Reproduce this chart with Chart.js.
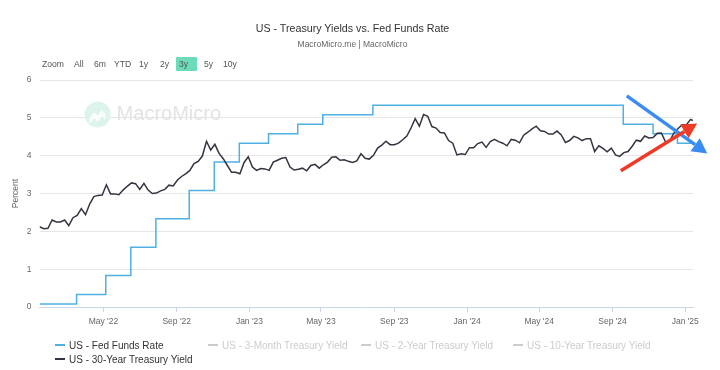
<!DOCTYPE html>
<html>
<head>
<meta charset="utf-8">
<script src="https://cdn.jsdelivr.net/npm/chart.js@4"></script>
<style>
  html,body{margin:0;padding:0;background:#fff;}
  #wrap{position:relative;width:720px;height:370px;overflow:hidden;font-family:"Liberation Sans",Arial,sans-serif;}
  #c{position:absolute;left:0;top:0;}
  .t{position:absolute;white-space:nowrap;}
  #title{left:0;width:705px;text-align:center;top:22px;font-size:10.7px;color:#333;}
  #sub{left:0;width:705px;text-align:center;top:39px;font-size:8.5px;color:#666;}
  .btn{position:absolute;top:59px;font-size:8.6px;color:#555;line-height:10px;}
  #sel{position:absolute;left:176px;top:57px;width:21px;height:14px;background:#6ddbb9;border-radius:1px;}
  .lg{position:absolute;font-size:10px;line-height:12px;color:#333;white-space:nowrap;}
  .lg i{display:inline-block;width:10px;height:2px;vertical-align:middle;margin-right:4px;position:relative;top:-1px;}
</style>
</head>
<body>
<div id="wrap">
  <canvas id="c" width="720" height="370"></canvas>
  <div id="title" class="t">US - Treasury Yields vs. Fed Funds Rate</div>
  <div id="sub" class="t">MacroMicro.me | MacroMicro</div>
  <div id="sel"></div>
  <div id="btns"></div>
  <div id="legend"></div>
</div>
<script>
// ---------------- data ----------------
const rangeButtons = ['Zoom','All','6m','YTD','1y','2y','3y','5y','10y'];
const rangeButtonX = [42,74,94,114,139,160,179,204,223];

const xMinDate = '2022-01-14';
const xMaxDate = '2025-01-14';
const tickDates  = ['2022-05-01','2022-09-01','2023-01-01','2023-05-01','2023-09-01','2024-01-01','2024-05-01','2024-09-01','2025-01-01'];
const tickLabels = ["May '22","Sep '22","Jan '23","May '23","Sep '23","Jan '24","May '24","Sep '24","Jan '25"];

const fedDates = ['2022-01-14','2022-03-17','2022-05-05','2022-06-16','2022-07-28','2022-09-22','2022-11-03','2022-12-15','2023-02-02','2023-03-23','2023-05-04','2023-07-27','2024-09-19','2024-11-08','2024-12-19','2025-01-14'];
const fedRates = [0.08,0.33,0.83,1.58,2.33,3.08,3.83,4.33,4.58,4.83,5.08,5.33,4.83,4.58,4.33,4.33];

// weekly (Fridays) 30-year yield starting 2022-01-14, last point 2025-01-14
const yieldStart = '2022-01-14';
const yield30 = [
 2.12,2.07,2.08,2.30,2.25,2.25,2.30,2.15,2.36,2.42,2.60,2.44,2.72,2.92,2.95,2.96,3.23,2.99,2.99,2.97,
 3.09,3.19,3.28,3.26,3.11,3.27,3.09,3.00,3.01,3.07,3.11,3.22,3.20,3.35,3.45,3.52,3.61,3.79,3.85,3.99,
 4.38,4.15,4.30,4.06,3.92,3.74,3.56,3.56,3.52,3.82,3.97,
 3.70,3.61,3.66,3.65,3.61,3.83,3.88,3.93,3.95,3.70,3.62,3.64,3.67,3.60,3.74,3.77,3.67,3.76,3.83,3.96,
 3.97,3.88,3.89,3.85,3.82,3.86,4.05,3.93,3.91,4.01,4.20,4.28,4.38,4.29,4.29,4.33,4.42,4.52,4.73,4.98,
 4.78,5.09,5.04,4.77,4.73,4.61,4.60,4.40,4.33,4.02,4.05,4.03,
 4.21,4.21,4.32,4.36,4.22,4.37,4.43,4.37,4.33,4.26,4.43,4.41,4.34,4.54,4.62,4.71,4.78,4.66,4.64,4.57,
 4.57,4.65,4.55,4.35,4.40,4.51,4.47,4.40,4.45,4.45,4.11,4.26,4.19,4.10,4.20,4.02,3.98,4.08,4.11,4.25,
 4.41,4.38,4.52,4.47,4.48,4.59,4.60,4.36,4.39,4.60,4.72,4.82,
 4.82,4.96
];
const yieldLastDate = '2025-01-14';
const yieldLastValue = 4.93;

const seriesNames  = ['US - Fed Funds Rate','US - 3-Month Treasury Yield','US - 2-Year Treasury Yield','US - 10-Year Treasury Yield','US - 30-Year Treasury Yield'];
const seriesShown  = [true,false,false,false,true];
const seriesColors = ['#4fb0e3','#cccccc','#cccccc','#cccccc','#343442'];
const legendX = [55,208,361,513,55];
const legendY = [340,340,340,340,354];

const arrowBlue = {from:['2024-09-25',5.58], to:['2025-02-07',4.06], color:'#3b8cf0'};
const arrowRed  = {from:['2024-09-15',3.60], to:['2025-01-21',4.85], color:'#ee3b26'};

// ---------------- helpers ----------------
const DAY = 86400000;
function dnum(s){const p=s.split('-').map(Number);return Date.UTC(p[0],p[1]-1,p[2])/DAY;}

const fedData = fedDates.map((s,i)=>({x:dnum(s),y:fedRates[i]}));
const y0 = dnum(yieldStart);
const yieldData = yield30.map((v,i)=>({x:y0+7*i,y:v}));
yieldData.push({x:dnum(yieldLastDate),y:yieldLastValue});

// HTML buttons & legend
const btns = document.getElementById('btns');
rangeButtons.forEach((b,i)=>{const e=document.createElement('div');e.className='btn';e.style.left=rangeButtonX[i]+'px';e.textContent=b;btns.appendChild(e);});
const lg = document.getElementById('legend');
seriesNames.forEach((n,i)=>{const e=document.createElement('div');e.className='lg';e.style.left=legendX[i]+'px';e.style.top=legendY[i]+'px';
  e.style.color=seriesShown[i]?'#333':'#cccccc';
  const m=document.createElement('i');m.style.background=seriesColors[i];e.appendChild(m);e.appendChild(document.createTextNode(n));lg.appendChild(e);});

// plugins
const watermark = {
  id:'watermark',
  beforeDatasetsDraw(chart){
    const {ctx,chartArea:a}=chart;
    ctx.save();
    const cx=a.left+58, cy=a.top+34.5;
    ctx.fillStyle='#dcf4eb';
    ctx.beginPath();ctx.arc(cx,cy,13,0,Math.PI*2);ctx.fill();
    ctx.strokeStyle='#ffffff';ctx.lineWidth=1.6;ctx.lineJoin='round';
    ctx.beginPath();ctx.moveTo(cx-8,cy+5);ctx.lineTo(cx-3,cy-1);ctx.lineTo(cx,cy+3);ctx.lineTo(cx+4,cy-3);ctx.lineTo(cx+8,cy+1);ctx.stroke();
    ctx.beginPath();ctx.moveTo(cx-8,cy+8);ctx.lineTo(cx-3,cy+2);ctx.lineTo(cx,cy+6);ctx.lineTo(cx+4,cy);ctx.lineTo(cx+8,cy+4);ctx.stroke();
    ctx.fillStyle='#e3e3e3';
    ctx.font='20px "Liberation Sans", Arial, sans-serif';
    ctx.textBaseline='middle';
    ctx.fillText('MacroMicro',a.left+77,cy);
    ctx.restore();
  }
};
function drawArrow(chart,ar){
  const xs=chart.scales.x, ys=chart.scales.y, ctx=chart.ctx;
  const x1=xs.getPixelForValue(dnum(ar.from[0])), y1=ys.getPixelForValue(ar.from[1]);
  const x2=xs.getPixelForValue(dnum(ar.to[0])),   y2=ys.getPixelForValue(ar.to[1]);
  const ang=Math.atan2(y2-y1,x2-x1), hl=15, hw=8;
  const bx=x2-hl*Math.cos(ang), by=y2-hl*Math.sin(ang);
  ctx.save();
  ctx.strokeStyle=ar.color;ctx.fillStyle=ar.color;ctx.lineWidth=3.5;ctx.lineCap='butt';
  ctx.beginPath();ctx.moveTo(x1,y1);ctx.lineTo(bx,by);ctx.stroke();
  ctx.beginPath();ctx.moveTo(x2,y2);
  ctx.lineTo(bx+hw*Math.sin(ang),by-hw*Math.cos(ang));
  ctx.lineTo(bx-hw*Math.sin(ang),by+hw*Math.cos(ang));
  ctx.closePath();ctx.fill();
  ctx.restore();
}
const arrows = {id:'arrows', afterDatasetsDraw(chart){drawArrow(chart,arrowBlue);drawArrow(chart,arrowRed);}};

const FONT='"Liberation Sans", Arial, sans-serif';
new Chart(document.getElementById('c'),{
  type:'line',
  data:{datasets:[
    {label:seriesNames[0],data:fedData,stepped:'before',borderColor:seriesColors[0],borderWidth:1.5,pointRadius:0,fill:false,order:2},
    {label:seriesNames[4],data:yieldData,borderColor:seriesColors[4],borderWidth:1.5,pointRadius:0,tension:0,fill:false,order:1}
  ]},
  options:{
    responsive:false,animation:false,
    layout:{padding:{top:80,left:0,right:27,bottom:0}},
    plugins:{legend:{display:false},tooltip:{enabled:false},title:{display:false}},
    scales:{
      x:{type:'linear',min:dnum(xMinDate),max:dnum(xMaxDate),
        afterBuildTicks(s){s.ticks=tickDates.map(t=>({value:dnum(t)}));},
        afterFit(s){s.height=63;},
        ticks:{autoSkip:false,maxRotation:0,padding:5,color:'#666',font:{family:FONT,size:8.5},
          callback(v,i){return tickLabels[i];}},
        grid:{drawOnChartArea:false,drawTicks:true,tickLength:5,color:'#ccd6eb'},
        border:{display:true,color:'#ccd6eb'}
      },
      y:{min:0,max:6,
        afterFit(s){s.width=39.6;},
        ticks:{stepSize:1,padding:8,color:'#666',font:{family:FONT,size:8.5}},
        grid:{color:'#e6e6e6',drawTicks:false},
        border:{display:false},
        title:{display:true,text:'Percent',color:'#666',font:{family:FONT,size:8.5},padding:{top:11,bottom:0}}
      }
    }
  },
  plugins:[watermark,arrows]
});
</script>
</body>
</html>
